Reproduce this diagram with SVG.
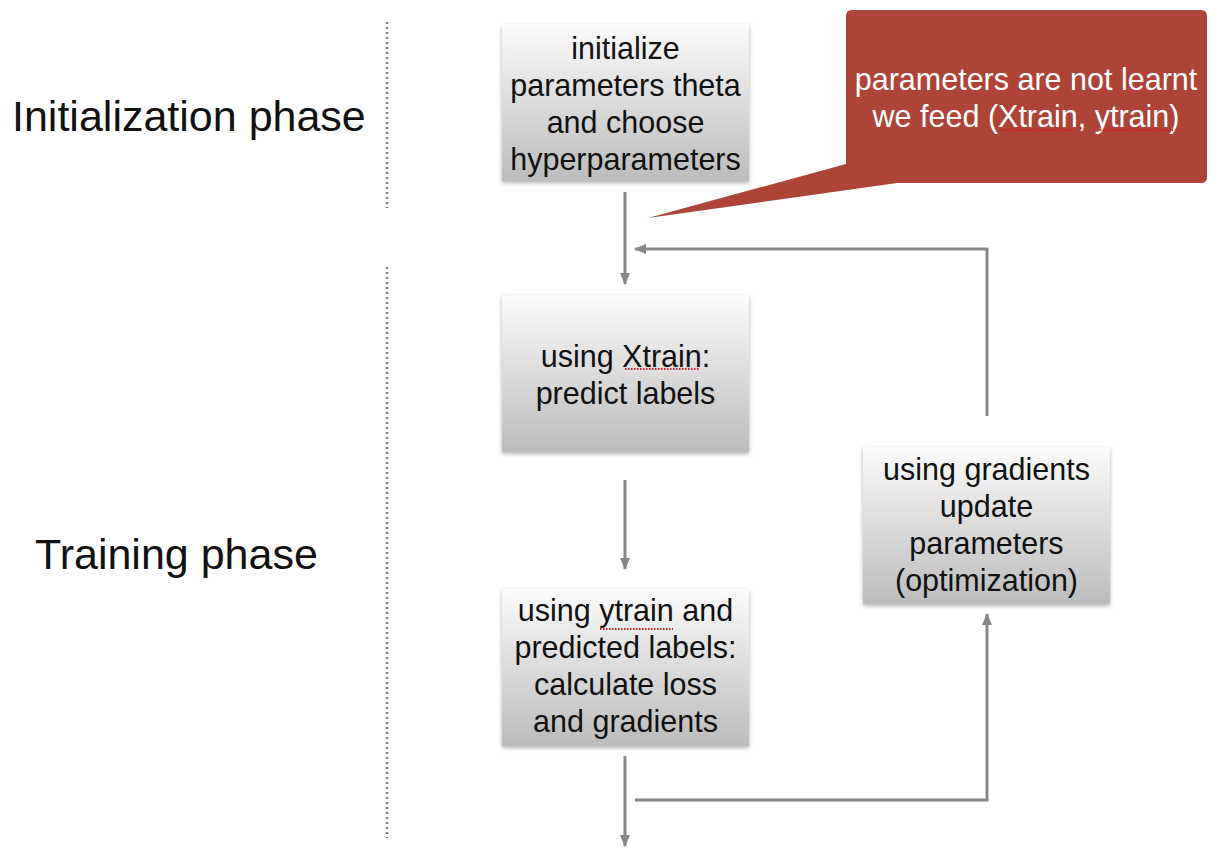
<svg xmlns="http://www.w3.org/2000/svg" width="1218" height="852" viewBox="0 0 1218 852">
<style>
.box{fill:url(#boxGrad);filter:url(#shadow)}
.t{font-family:"Liberation Sans",Arial,sans-serif;font-size:30.5px;fill:#111;text-anchor:middle}
.ct{font-family:"Liberation Sans",Arial,sans-serif;font-size:30.5px;fill:#fff;text-anchor:middle}
.phase{font-family:"Liberation Sans",Arial,sans-serif;font-size:43px;fill:#111}
.conn{stroke:#85878b;stroke-width:3;fill:none}
.sep{stroke:#808080;stroke-width:2.5;stroke-dasharray:2 3;fill:none}
.sq{stroke:#e02020;stroke-width:1.8;stroke-dasharray:1.5 1.5;fill:none}
</style>
<defs>
<linearGradient id="boxGrad" x1="0" y1="0" x2="0" y2="1">
<stop offset="0" stop-color="#fbfbfb"/>
<stop offset="1" stop-color="#bcbcbc"/>
</linearGradient>
<filter id="shadow" x="-10%" y="-10%" width="120%" height="125%">
<feDropShadow dx="0" dy="2" stdDeviation="2" flood-color="#000" flood-opacity="0.3"/>
</filter>
<marker id="arr" markerWidth="12" markerHeight="10" refX="11" refY="5" orient="auto" markerUnits="userSpaceOnUse">
<path d="M0,0 L12,5 L0,10 Z" fill="#85878b"/>
</marker>
</defs>

<g id="separators">
<line class="sep" x1="387" y1="22" x2="387" y2="208"/>
<line class="sep" x1="387" y1="267" x2="387" y2="838"/>
</g>

<g id="labels">
<text class="phase" x="12" y="131">Initialization phase</text>
<text class="phase" x="35" y="569">Training phase</text>
</g>

<g id="connectors">
<line class="conn" x1="625" y1="192" x2="625" y2="284" marker-end="url(#arr)"/>
<polyline class="conn" points="987,416 987,249 635,249" marker-end="url(#arr)"/>
<line class="conn" x1="625" y1="480" x2="625" y2="569" marker-end="url(#arr)"/>
<line class="conn" x1="625" y1="756" x2="625" y2="846" marker-end="url(#arr)"/>
<polyline class="conn" points="635,800 987,800 987,614" marker-end="url(#arr)"/>
</g>

<g id="node-init">
<rect class="box" x="502" y="24" width="247" height="157"/>
<text class="t" x="625.5" y="59">initialize</text>
<text class="t" x="625.5" y="96">parameters theta</text>
<text class="t" x="625.5" y="133">and choose</text>
<text class="t" x="625.5" y="170">hyperparameters</text>
</g>

<g id="node-predict">
<rect class="box" x="502" y="295" width="247" height="157"/>
<text class="t" x="625.5" y="367">using Xtrain:</text>
<text class="t" x="625.5" y="404">predict labels</text>
<line class="sq" x1="625" y1="369" x2="699" y2="369"/>
</g>

<g id="node-loss">
<rect class="box" x="502" y="589" width="247" height="157"/>
<text class="t" x="625.5" y="621">using ytrain and</text>
<text class="t" x="625.5" y="658">predicted labels:</text>
<text class="t" x="625.5" y="695">calculate loss</text>
<text class="t" x="625.5" y="732">and gradients</text>
<line class="sq" x1="600" y1="629" x2="673" y2="629"/>
</g>

<g id="node-update">
<rect class="box" x="863" y="447" width="247" height="157"/>
<text class="t" x="986.5" y="480">using gradients</text>
<text class="t" x="986.5" y="517">update</text>
<text class="t" x="986.5" y="554">parameters</text>
<text class="t" x="986.5" y="591">(optimization)</text>
</g>

<g id="callout">
<path d="M852,10 H1201 Q1207,10 1207,16 V177 Q1207,183 1201,183 H897 L648,218 L846,164 V16 Q846,10 852,10 Z" fill="#ad4437"/>
<text class="ct" x="1026" y="90">parameters are not learnt</text>
<text class="ct" x="1026" y="127">we feed (Xtrain, ytrain)</text>
<line class="sq" x1="1001" y1="130" x2="1077" y2="130"/>
<line class="sq" x1="1097" y1="130" x2="1173" y2="130"/>
</g>
</svg>
